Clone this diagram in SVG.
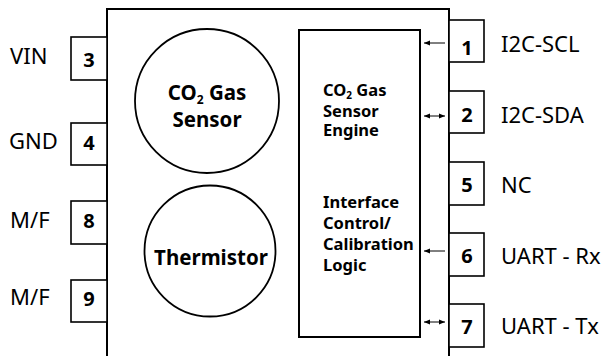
<svg xmlns="http://www.w3.org/2000/svg" width="610" height="356" viewBox="0 0 610 356">
<defs>
<marker id="ah" viewBox="0 0 6 6" refX="6" refY="3" markerWidth="6" markerHeight="6" markerUnits="userSpaceOnUse" orient="auto-start-reverse">
<path d="M0,0.5 L6,3 L0,5.5 Z" fill="#000"/>
</marker>
<style>
.box{fill:#fff;stroke:#000;stroke-width:1.6}
.lbl{font-family:"Noto Sans","Open Sans","Liberation Sans",sans-serif;font-size:22px;fill:#000}
.num{font-family:"Noto Sans","Open Sans","Liberation Sans",sans-serif;font-size:20px;font-weight:bold;fill:#000;text-anchor:middle}
.ct{font-family:"Noto Sans","Open Sans","Liberation Sans",sans-serif;font-size:20.5px;font-weight:bold;fill:#000;text-anchor:middle}
.it{font-family:"Noto Sans","Open Sans","Liberation Sans",sans-serif;font-size:16.5px;font-weight:bold;fill:#000}
.conn{stroke:#000;stroke-width:1;fill:none}
</style>
</defs>
<rect width="610" height="356" fill="#fff"/>
<g id="package">
<path d="M107,360 L107,9 L449,9 L449,360" fill="none" stroke="#000" stroke-width="2"/>
</g>
<g id="co2-sensor">
<circle cx="207" cy="101" r="72" fill="#fff" stroke="#000" stroke-width="1.8"/>
<text class="ct" x="207" y="100">CO<tspan font-size="12px" dy="4">2</tspan><tspan dy="-4"> Gas</tspan></text>
<text class="ct" x="207" y="127">Sensor</text>
</g>
<g id="thermistor">
<circle cx="210" cy="251" r="65.5" fill="#fff" stroke="#000" stroke-width="1.8"/>
<text class="ct" x="211" y="265">Thermistor</text>
</g>
<g id="engine">
<rect x="299" y="30" width="121" height="307" fill="#fff" stroke="#000" stroke-width="2"/>
<text class="it" x="323" y="96">CO<tspan font-size="10px" dy="3">2</tspan><tspan dy="-3"> Gas</tspan></text>
<text class="it" x="323" y="116.5">Sensor</text>
<text class="it" x="323" y="136">Engine</text>
<text class="it" x="323" y="208">Interface</text>
<text class="it" x="323" y="229">Control/</text>
<text class="it" x="323" y="250">Calibration</text>
<text class="it" x="323" y="271">Logic</text>
</g>
<g id="pin3"><rect class="box" x="71" y="37" width="36" height="43"/><text class="num" x="89" y="67">3</text><text class="lbl" x="10" y="64">VIN</text></g>
<g id="pin4"><rect class="box" x="71" y="123" width="36" height="42"/><text class="num" x="89" y="150">4</text><text class="lbl" x="9" y="149">GND</text></g>
<g id="pin8"><rect class="box" x="71" y="201" width="36" height="43"/><text class="num" x="89" y="228">8</text><text class="lbl" x="10" y="228">M/F</text></g>
<g id="pin9"><rect class="box" x="71" y="280" width="36" height="42"/><text class="num" x="89" y="306">9</text><text class="lbl" x="10" y="305">M/F</text></g>
<g id="pin1"><rect class="box" x="449" y="20" width="35" height="42"/><text class="num" x="467" y="55">1</text><text class="lbl" x="501" y="52">I2C-SCL</text></g>
<g id="pin2"><rect class="box" x="449" y="91" width="35" height="42"/><text class="num" x="467" y="122">2</text><text class="lbl" x="501" y="123">I2C-SDA</text></g>
<g id="pin5"><rect class="box" x="449" y="162" width="35" height="43"/><text class="num" x="467" y="192">5</text><text class="lbl" x="501" y="193">NC</text></g>
<g id="pin6"><rect class="box" x="449" y="233" width="35" height="43"/><text class="num" x="467" y="263">6</text><text class="lbl" x="501" y="264">UART - Rx</text></g>
<g id="pin7"><rect class="box" x="449" y="304" width="35" height="43"/><text class="num" x="467" y="334">7</text><text class="lbl" x="501" y="334">UART - Tx</text></g>
<g id="connectors">
<line class="conn" x1="445" y1="43" x2="424" y2="43" marker-end="url(#ah)"/>
<line class="conn" x1="445" y1="116" x2="424" y2="116" marker-start="url(#ah)" marker-end="url(#ah)"/>
<line class="conn" x1="445" y1="251" x2="424" y2="251" marker-end="url(#ah)"/>
<line class="conn" x1="445" y1="322" x2="424" y2="322" marker-start="url(#ah)" marker-end="url(#ah)"/>
</g>
</svg>
